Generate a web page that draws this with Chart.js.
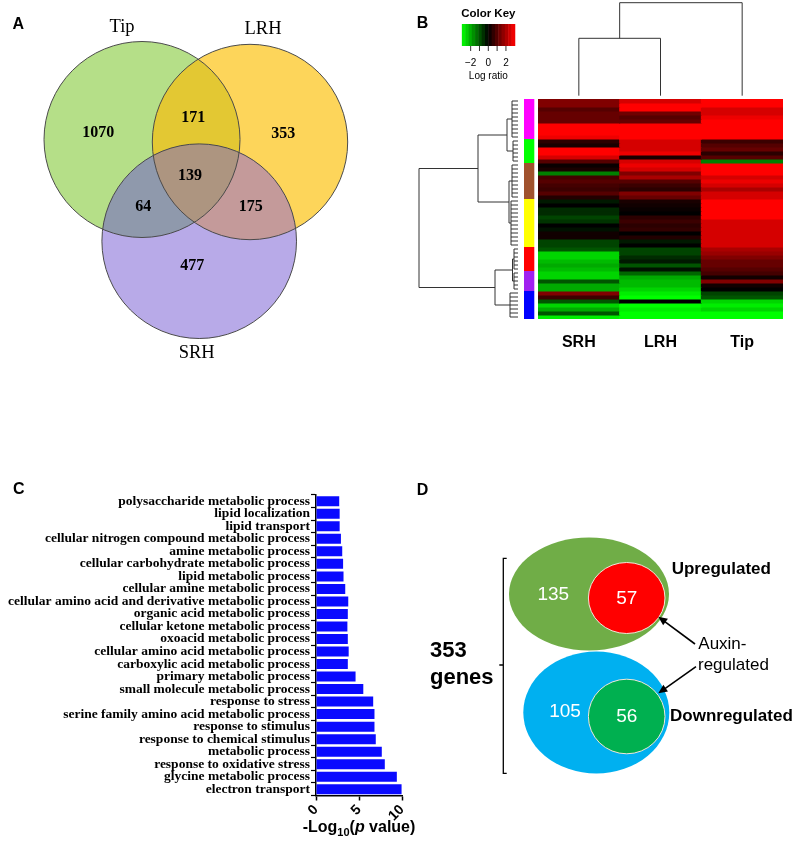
<!DOCTYPE html>
<html>
<head>
<meta charset="utf-8">
<script src="https://cdn.jsdelivr.net/npm/chart.js@4.4.1/dist/chart.umd.min.js"></script>
<style>
  body { margin: 0; background: #fff; }
  #page { position: relative; width: 800px; height: 847px; overflow: hidden; }
  canvas { position: absolute; }
</style>
</head>
<body>
<div id="page">
  <canvas id="venn" width="400" height="370" style="left:0;top:0"></canvas>
  <canvas id="heat" width="400" height="370" style="left:400px;top:0"></canvas>
  <canvas id="goBars" width="420" height="367" style="left:0;top:480px"></canvas>
  <canvas id="auxin" width="400" height="367" style="left:400px;top:480px"></canvas>
</div>
<script>
// ---- data ----

// A: overlap of gene sets
const vennSets = ['Tip', 'LRH', 'SRH'];
const vennRegions = ['Tip', 'LRH', 'SRH', 'Tip+LRH', 'Tip+SRH', 'LRH+SRH', 'Tip+LRH+SRH'];
const vennCounts = [1070, 353, 477, 171, 64, 175, 139];

// B: log ratio heatmap, rows top to bottom
const heatColumns = ['SRH', 'LRH', 'Tip'];
const srhRatio = [1.5, 1.5, 1.0, 1.2, 1.2, 1.2, 3, 3, 3, 2.8,
  0.5, 0.3, 3, 3, 2.5, 1.0,
  0.1, 0.3, -1.5, 0.8, 1.0, 0.8, 0.7, 1.0, 0.4,
  -0.3, 0, -0.5, -0.5, -0.8, -0.6, 0, -0.2, 0.2, 0.2, -0.8, -0.8,
  -1, -2.5, -2.5, -2.2, -2, -2.2,
  -2.5, -2.5, -1, -2, -2,
  1.5, 0.7, -1, -2.5, -2, -1, -2.8];
const lrhRatio = [2.5, 3, 3, 1.3, 1.0, 1.2, 3, 3, 3, 3,
  2.5, 2.5, 2.5, 2.8, 0.3, 2.5,
  2.8, 2.5, 1.5, 2, 1, 0.7, 0.5, 1.5, 1.2,
  0.3, 0.2, 0.1, 0, 0.5, 0.7, 0.5, 0.6, 0, 0.4, -0.3, 0,
  -0.8, -0.8, -0.5, -0.3, -1, -0.2,
  -1.2, -2, -2.2, -2.2, -2.5,
  -2.8, -3, 0, -3, -2.8, -3, -3];
const tipRatio = [3, 3, 2.5, 2.5, 2.8, 3, 3, 3, 3, 3,
  0.7, 1, 1.2, 0.5, 1, -1.5,
  3, 3, 3, 2.5, 2.8, 2.5, 2, 2.5, 2.5,
  3, 3, 3, 3, 3, 2.5, 2.5, 2.5, 2.5, 2.5, 2.5, 2.5,
  2, 1.8, 1.5, 1.2, 1.2, 1,
  0.8, 0.2, 1.5, 0.2, 0,
  -0.8, -1, -2.5, -2.8, -2.5, -3, -3];
const clusterSizes = [10, 6, 9, 12, 6, 5, 7];
const clusterRootHeights = [6, 5, 6, 7, 4, 4, 8];
// [child, child, height]; clusters are 0..6, new nodes numbered from 7
const rowMerges = [[0, 1, 11], [2, 3, 9], [7, 8, 40], [4, 5, 5.5], [10, 6, 23], [9, 11, 99]];
const colMerges = [[0, 1, 57.4], [3, 2, 93]];
const keyTickMarks = [-2, -1, 0, 1, 2];
const keyTickLabels = [-2, 0, 2];

// C: enriched GO terms
const goTerms = [
  'polysaccharide metabolic process', 'lipid localization', 'lipid transport',
  'cellular nitrogen compound metabolic process', 'amine metabolic process',
  'cellular carbohydrate metabolic process', 'lipid metabolic process',
  'cellular amine metabolic process', 'cellular amino acid and derivative metabolic process',
  'organic acid metabolic process', 'cellular ketone metabolic process',
  'oxoacid metabolic process', 'cellular amino acid metabolic process',
  'carboxylic acid metabolic process', 'primary metabolic process',
  'small molecule metabolic process', 'response to stress',
  'serine family amino acid metabolic process', 'response to stimulus',
  'response to chemical stimulus', 'metabolic process', 'response to oxidative stress',
  'glycine metabolic process', 'electron transport'
];
const negLogP = [2.7, 2.75, 2.75, 2.9, 3.05, 3.15, 3.2, 3.4, 3.75, 3.7, 3.65, 3.7,
  3.8, 3.7, 4.6, 5.5, 6.65, 6.8, 6.8, 6.95, 7.65, 8.0, 9.4, 9.95];
const pTicks = [0, 5, 10];

// D: LRH-specific genes by direction
const dirGroups = ['Upregulated', 'Downregulated'];
const dirTotal = 353;
const dirOtherCounts = [135, 105];
const dirAuxinCounts = [57, 56];

// ---- layout & style ----
const SANS = '"Liberation Sans", Arial, sans-serif';
const SERIF = '"Liberation Serif", "Times New Roman", serif';

const vennCircles = [[142, 139.5, 98], [250, 142, 97.7], [199.2, 241.2, 97.3]];
const vennFills = ['#b5df88', '#fdd55a', '#b8aae8'];
const vennPairFills = [[0, 1, '#e3c833'], [0, 2, '#8f99ac'], [1, 2, '#c49a9a']];
const vennTripleFill = '#ad9580';
const vennSetLabelPos = [[122, 27], [263, 29], [196.7, 353.3]];
const vennCountPos = [[98.3, 132.7], [283.3, 134.3], [192.3, 266], [193.3, 118.3],
  [143.3, 207.3], [250.7, 207.3], [190, 176]];

const clusterColors = ['#ff00ff', '#00ff00', '#a0522d', '#ffff00', '#ff0000', '#a020f0', '#0000ff'];

const dOuter = [[189, 114, 80, 56.5], [196.3, 232.5, 73, 61]];
const dInner = [[226.7, 118, 38.3, 35.5], [226.7, 236.5, 38.3, 37.3]];
const dOuterColors = ['#70ad47', '#00b0f0'];
const dInnerColors = ['#ff0000', '#00b050'];

function ratioColor(v) {
  const t = Math.min(1, Math.abs(v) / 3);
  const c = Math.round(255 * t);
  return v > 0 ? `rgb(${c},0,0)` : `rgb(0,${c},0)`;
}

function panelLetter(ctx, letter, x, y) {
  ctx.save();
  ctx.font = `bold 16px ${SANS}`;
  ctx.fillStyle = '#000';
  ctx.textAlign = 'center';
  ctx.textBaseline = 'middle';
  ctx.fillText(letter, x, y);
  ctx.restore();
}

// blank chart whose scales map one unit to one pixel, used by the diagram panels
function diagramChart(id, w, h, plugin) {
  return new Chart(document.getElementById(id), {
    type: 'scatter',
    data: { datasets: [] },
    options: {
      responsive: false, animation: false,
      layout: { padding: 0, autoPadding: false },
      plugins: { legend: { display: false }, tooltip: { enabled: false } },
      scales: {
        x: { display: false, min: 0, max: w },
        y: { display: false, min: 0, max: h, reverse: true }
      }
    },
    plugins: [plugin]
  });
}

// ---- A: Venn ----
const vennPlugin = {
  id: 'venn',
  afterDraw(chart) {
    const { ctx, scales: { x, y } } = chart;
    const circ = vennCircles.map(c => ({
      cx: x.getPixelForValue(c[0]), cy: y.getPixelForValue(c[1]),
      r: x.getPixelForValue(c[0] + c[2]) - x.getPixelForValue(c[0])
    }));
    const path = c => { ctx.beginPath(); ctx.arc(c.cx, c.cy, c.r, 0, Math.PI * 2); };
    circ.forEach((c, i) => { path(c); ctx.fillStyle = vennFills[i]; ctx.fill(); });
    vennPairFills.forEach(([i, j, col]) => {
      ctx.save(); path(circ[i]); ctx.clip(); path(circ[j]); ctx.fillStyle = col; ctx.fill(); ctx.restore();
    });
    ctx.save();
    path(circ[0]); ctx.clip(); path(circ[1]); ctx.clip(); path(circ[2]);
    ctx.fillStyle = vennTripleFill; ctx.fill();
    ctx.restore();
    circ.forEach(c => { path(c); ctx.strokeStyle = '#4a4a4a'; ctx.lineWidth = 1; ctx.stroke(); });

    ctx.fillStyle = '#000';
    ctx.textAlign = 'center';
    ctx.textBaseline = 'middle';
    ctx.font = `18.5px ${SERIF}`;
    vennSets.forEach((s, i) => {
      const p = vennSetLabelPos[i];
      ctx.fillText(s, x.getPixelForValue(p[0]), y.getPixelForValue(p[1]));
    });
    ctx.font = `bold 16px ${SERIF}`;
    vennCounts.forEach((n, i) => {
      const p = vennCountPos[i];
      ctx.fillText(String(n), x.getPixelForValue(p[0]), y.getPixelForValue(p[1]));
    });
    panelLetter(ctx, 'A', 18.3, 24.2);
  }
};
diagramChart('venn', 400, 370, vennPlugin);

// ---- B: heatmap ----
const heatValues = [srhRatio, lrhRatio, tipRatio];
const heatRows = srhRatio.map((_, k) => ({
  data: heatColumns.map(() => 1),
  backgroundColor: heatValues.map(col => ratioColor(col[k])),
  borderWidth: 0,
  barPercentage: 1,
  categoryPercentage: 1,
  inflateAmount: 0.5
}));

const heatDecor = {
  id: 'heatDecor',
  afterDraw(chart) {
    const { ctx, chartArea: ca, scales: { x, y } } = chart;

    // cluster side bar
    let r0 = 0;
    const clusterMid = [];
    clusterSizes.forEach((n, i) => {
      const top = y.getPixelForValue(r0), bot = y.getPixelForValue(r0 + n);
      ctx.fillStyle = clusterColors[i];
      ctx.fillRect(ca.left - 14, top, 10.3, bot - top);
      clusterMid.push({ first: r0, last: r0 + n - 1, y: (top + bot) / 2, h: clusterRootHeights[i] });
      r0 += n;
    });

    // row dendrogram (height in px to the left of the leaves)
    const leafX = ca.left - 20;
    const hx = h => leafX - h;
    ctx.strokeStyle = '#333';
    ctx.lineWidth = 1;
    const nodes = clusterMid.map(c => ({ y: c.y, h: c.h }));
    ctx.beginPath();
    clusterMid.forEach(c => {
      const yTop = y.getPixelForValue(c.first + 0.5), yBot = y.getPixelForValue(c.last + 0.5);
      ctx.moveTo(hx(c.h), yTop); ctx.lineTo(hx(c.h), yBot);
      for (let r = c.first; r <= c.last; r++) {
        const yr = y.getPixelForValue(r + 0.5);
        ctx.moveTo(hx(c.h), yr); ctx.lineTo(leafX, yr);
      }
    });
    rowMerges.forEach(([a, b, h]) => {
      const na = nodes[a], nb = nodes[b];
      ctx.moveTo(hx(na.h), na.y); ctx.lineTo(hx(h), na.y);
      ctx.lineTo(hx(h), nb.y); ctx.lineTo(hx(nb.h), nb.y);
      nodes.push({ y: (na.y + nb.y) / 2, h });
    });
    ctx.stroke();

    // column dendrogram
    const leafY = ca.top - 3.3;
    const cnodes = heatColumns.map((_, i) => ({ x: x.getPixelForValue(i), h: 0 }));
    ctx.beginPath();
    colMerges.forEach(([a, b, h]) => {
      const na = cnodes[a], nb = cnodes[b];
      ctx.moveTo(na.x, leafY - na.h); ctx.lineTo(na.x, leafY - h);
      ctx.lineTo(nb.x, leafY - h); ctx.lineTo(nb.x, leafY - nb.h);
      cnodes.push({ x: (na.x + nb.x) / 2, h });
    });
    ctx.stroke();

    // column labels
    ctx.fillStyle = '#000';
    ctx.font = `bold 16px ${SANS}`;
    ctx.textAlign = 'center';
    ctx.textBaseline = 'middle';
    heatColumns.forEach((c, i) => ctx.fillText(c, x.getPixelForValue(i), 343));

    // colour key
    const kx = v => 88.3 + v * 8.82;
    const bands = 16;
    for (let b = 0; b < bands; b++) {
      const v0 = -3 + (6 * b) / bands, v1 = -3 + (6 * (b + 1)) / bands;
      ctx.fillStyle = ratioColor((v0 + v1) / 2);
      ctx.fillRect(kx(v0), 24, kx(v1) - kx(v0) + 0.5, 22);
    }
    ctx.strokeStyle = '#333';
    ctx.beginPath();
    keyTickMarks.forEach(v => { ctx.moveTo(kx(v), 46); ctx.lineTo(kx(v), 51); });
    ctx.stroke();
    ctx.fillStyle = '#000';
    ctx.font = `10px ${SANS}`;
    keyTickLabels.forEach(v => ctx.fillText(v < 0 ? '\u2212' + Math.abs(v) : String(v), kx(v), 63));
    ctx.fillText('Log ratio', 88.3, 76.5);
    ctx.font = `bold 11.5px ${SANS}`;
    ctx.fillText('Color Key', 88.3, 14.3);

    panelLetter(ctx, 'B', 22.5, 23.8);
  }
};

new Chart(document.getElementById('heat'), {
  type: 'bar',
  data: { labels: heatColumns, datasets: heatRows },
  options: {
    responsive: false, animation: false,
    layout: { padding: { left: 138, right: 17, top: 99, bottom: 51 }, autoPadding: false },
    plugins: { legend: { display: false }, tooltip: { enabled: false } },
    scales: {
      x: { display: false, stacked: true },
      y: { display: false, stacked: true, min: 0, max: srhRatio.length, reverse: true }
    }
  },
  plugins: [heatDecor]
});

// ---- C: GO bar chart ----
const pAxisTitle = {
  id: 'pAxisTitle',
  afterDraw(chart) {
    const { ctx, chartArea: ca } = chart;
    const parts = [
      { t: '-Log', f: `bold 16px ${SANS}`, dy: 0 },
      { t: '10', f: `bold 11px ${SANS}`, dy: 5 },
      { t: '(', f: `bold 16px ${SANS}`, dy: 0 },
      { t: 'p', f: `italic bold 16px ${SANS}`, dy: 0 },
      { t: ' value)', f: `bold 16px ${SANS}`, dy: 0 }
    ];
    let w = 0;
    parts.forEach(p => { ctx.font = p.f; p.w = ctx.measureText(p.t).width; w += p.w; });
    let cx = (ca.left + ca.right) / 2 - w / 2;
    ctx.fillStyle = '#000';
    ctx.textAlign = 'left';
    ctx.textBaseline = 'middle';
    parts.forEach(p => { ctx.font = p.f; ctx.fillText(p.t, cx, 348 + p.dy); cx += p.w; });
    panelLetter(ctx, 'C', 18.7, 10);
  }
};

new Chart(document.getElementById('goBars'), {
  type: 'bar',
  data: {
    labels: goTerms,
    datasets: [{ data: negLogP, backgroundColor: '#0a0aff', barPercentage: 0.8, categoryPercentage: 1 }]
  },
  options: {
    indexAxis: 'y',
    responsive: false, animation: false,
    layout: { padding: { top: 15, right: 18, bottom: 21.5, left: 0 }, autoPadding: false },
    plugins: { legend: { display: false }, tooltip: { enabled: false } },
    scales: {
      x: {
        min: pTicks[0], max: pTicks[pTicks.length - 1],
        afterBuildTicks: s => { s.ticks = pTicks.map(v => ({ value: v })); },
        ticks: { minRotation: 45, maxRotation: 45, padding: 1, color: '#000',
                 font: { family: SANS, size: 14, weight: 'bold' } },
        grid: { drawOnChartArea: false, color: '#000', tickLength: 5, tickWidth: 1.5 },
        border: { color: '#000', width: 1.5 },
        afterFit: s => { s.height = 30; }
      },
      y: {
        ticks: { autoSkip: false, padding: 1, color: '#000',
                 font: { family: SERIF, size: 13.5, weight: 'bold' } },
        grid: { drawOnChartArea: false, color: '#000', tickLength: 5, tickWidth: 1.2 },
        border: { color: '#000', width: 1.5 },
        afterFit: s => { s.width = 316; }
      }
    }
  },
  plugins: [pAxisTitle]
});

// ---- D: up/down regulated with auxin subset ----
const auxinPlugin = {
  id: 'auxinPanel',
  afterDraw(chart) {
    const { ctx, scales: { x, y } } = chart;
    const ell = (e) => {
      ctx.beginPath();
      ctx.ellipse(x.getPixelForValue(e[0]), y.getPixelForValue(e[1]), e[2], e[3], 0, 0, Math.PI * 2);
    };
    dirGroups.forEach((g, i) => {
      ell(dOuter[i]); ctx.fillStyle = dOuterColors[i]; ctx.fill();
      ell(dInner[i]); ctx.fillStyle = dInnerColors[i]; ctx.fill();
      ctx.strokeStyle = '#f2e6d8'; ctx.lineWidth = 1; ctx.stroke();
    });

    ctx.textBaseline = 'middle';
    ctx.textAlign = 'center';
    ctx.fillStyle = '#fff';
    ctx.font = `19px ${SANS}`;
    const otherPos = [[153.3, 115], [165, 232]];
    dirOtherCounts.forEach((n, i) => ctx.fillText(String(n), x.getPixelForValue(otherPos[i][0]), y.getPixelForValue(otherPos[i][1])));
    dirAuxinCounts.forEach((n, i) => ctx.fillText(String(n), x.getPixelForValue(dInner[i][0]), y.getPixelForValue(dInner[i][1] + 0.5)));

    ctx.fillStyle = '#000';
    ctx.textAlign = 'left';
    ctx.font = `bold 17px ${SANS}`;
    const groupPos = [[271.7, 89.3], [270, 236.7]];
    dirGroups.forEach((g, i) => ctx.fillText(g, x.getPixelForValue(groupPos[i][0]), y.getPixelForValue(groupPos[i][1])));
    ctx.font = `17px ${SANS}`;
    ctx.fillText('Auxin-', x.getPixelForValue(298.3), y.getPixelForValue(164.3));
    ctx.fillText('regulated', x.getPixelForValue(298), y.getPixelForValue(185));
    ctx.font = `bold 22px ${SANS}`;
    ctx.fillText(String(dirTotal), x.getPixelForValue(30), y.getPixelForValue(170.7));
    ctx.fillText('genes', x.getPixelForValue(30), y.getPixelForValue(198.3));

    // bracket
    ctx.strokeStyle = '#000';
    ctx.lineWidth = 1.3;
    ctx.beginPath();
    ctx.moveTo(x.getPixelForValue(106.7), y.getPixelForValue(78.3));
    ctx.lineTo(x.getPixelForValue(103.3), y.getPixelForValue(78.3));
    ctx.lineTo(x.getPixelForValue(103.3), y.getPixelForValue(293.3));
    ctx.lineTo(x.getPixelForValue(106.7), y.getPixelForValue(293.3));
    ctx.moveTo(x.getPixelForValue(103.3), y.getPixelForValue(185));
    ctx.lineTo(x.getPixelForValue(99.3), y.getPixelForValue(185));
    ctx.stroke();

    // arrows
    const arrow = (x0, y0, x1, y1) => {
      const a = Math.atan2(y1 - y0, x1 - x0);
      ctx.lineWidth = 1.6;
      ctx.beginPath(); ctx.moveTo(x0, y0); ctx.lineTo(x1 - 6 * Math.cos(a), y1 - 6 * Math.sin(a)); ctx.stroke();
      ctx.beginPath();
      ctx.moveTo(x1, y1);
      ctx.lineTo(x1 - 9 * Math.cos(a) + 4 * Math.sin(a), y1 - 9 * Math.sin(a) - 4 * Math.cos(a));
      ctx.lineTo(x1 - 9 * Math.cos(a) - 4 * Math.sin(a), y1 - 9 * Math.sin(a) + 4 * Math.cos(a));
      ctx.closePath(); ctx.fillStyle = '#000'; ctx.fill();
    };
    arrow(x.getPixelForValue(295), y.getPixelForValue(164), x.getPixelForValue(258.3), y.getPixelForValue(136.7));
    arrow(x.getPixelForValue(296), y.getPixelForValue(186.7), x.getPixelForValue(258.3), y.getPixelForValue(213.3));

    panelLetter(ctx, 'D', 22.5, 10.5);
  }
};
diagramChart('auxin', 400, 367, auxinPlugin);
</script>
</body>
</html>
